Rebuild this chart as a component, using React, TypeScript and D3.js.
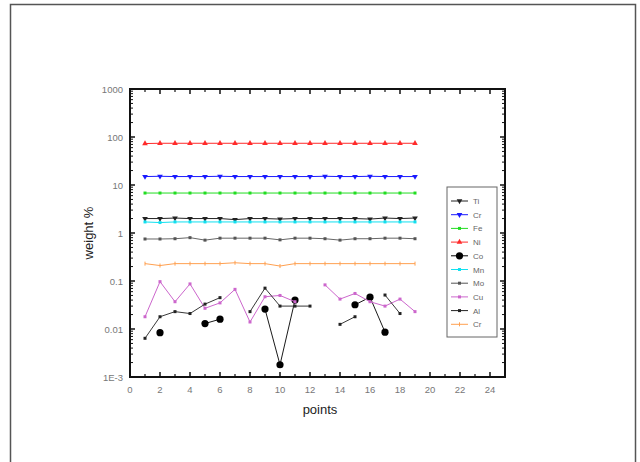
import React from "react";
import * as d3 from "d3";

const points = [1, 2, 3, 4, 5, 6, 7, 8, 9, 10, 11, 12, 13, 14, 15, 16, 17, 18, 19];

const ti = [2.0, 2.0, 2.05, 2.0, 2.0, 2.0, 1.9, 2.0, 2.0, 1.95, 2.0, 2.0, 2.0, 2.0, 2.0, 1.95, 2.05, 2.0, 2.05];
const cr = [15, 15.2, 15, 15, 15, 15.2, 15, 15, 15, 15, 15, 15, 15.2, 15, 15, 15.2, 15, 15, 15];
const fe = [6.8, 6.8, 6.8, 6.8, 6.8, 6.8, 6.8, 6.8, 6.8, 6.8, 6.8, 6.8, 6.8, 6.8, 6.8, 6.8, 6.8, 6.8, 6.8];
const ni = [73, 74, 74, 74, 74, 74, 74, 74, 74, 74, 74, 74, 74, 74, 74, 74, 74, 74, 74];
const co = [null, 0.0084, null, null, 0.013, 0.016, null, null, 0.026, 0.0018, 0.04, null, null, null, 0.032, 0.046, 0.0086, null, null];
const mn = [1.7, 1.65, 1.7, 1.7, 1.7, 1.7, 1.7, 1.7, 1.7, 1.7, 1.7, 1.7, 1.7, 1.7, 1.7, 1.7, 1.7, 1.7, 1.7];
const mo = [0.75, 0.75, 0.76, 0.8, 0.71, 0.78, 0.78, 0.78, 0.78, 0.72, 0.78, 0.78, 0.76, 0.71, 0.76, 0.76, 0.78, 0.78, 0.76];
const cu = [0.018, 0.097, 0.037, 0.087, 0.027, 0.035, 0.067, 0.014, 0.047, 0.05, 0.037, null, 0.083, 0.042, 0.055, 0.037, 0.03, 0.042, 0.023];
const al = [0.0064, 0.018, 0.023, 0.021, 0.033, 0.045, null, 0.023, 0.071, 0.03, 0.03, 0.03, null, 0.0125, 0.018, null, 0.051, 0.021, null];
const cr2 = [0.23, 0.21, 0.23, 0.23, 0.23, 0.23, 0.24, 0.23, 0.23, 0.205, 0.23, 0.23, 0.23, 0.23, 0.23, 0.23, 0.23, 0.23, 0.23];

const seriesNames = ["Ti", "Cr", "Fe", "Ni", "Co", "Mn", "Mo", "Cu", "Al", "Cr"];
const seriesColors = ["#222222", "#1a1aff", "#22dd22", "#ff2a2a", "#000000", "#11e0f0", "#555555", "#cc66cc", "#222222", "#ffa050"];
const seriesValues = [ti, cr, fe, ni, co, mn, mo, cu, al, cr2];
const seriesShapes = ["triangleDown", "triangleDown", "square", "triangle", "circleBig", "square", "square", "square", "square", "tick"];

const xTicks = [0, 2, 4, 6, 8, 10, 12, 14, 16, 18, 20, 22, 24];
const yTicks = [0.001, 0.01, 0.1, 1, 10, 100, 1000];
const yTickLabels = ["1E-3", "0.01", "0.1", "1", "10", "100", "1000"];

const X0 = 130, X1 = 505, Y0 = 377, Y1 = 89;

function Marker({ shape, x, y, color }: any) {
  if (shape === "circleBig") return <circle cx={x} cy={y} r={3.6} fill={color} />;
  if (shape === "tick") return <line x1={x} x2={x} y1={y - 2} y2={y + 2} stroke={color} strokeWidth={1} />;
  const type =
    shape === "triangle" ? d3.symbolTriangle : shape === "triangleDown" ? d3.symbolTriangle : d3.symbolSquare;
  const size = shape === "square" ? 9 : 14;
  const p = d3.symbol().type(type).size(size)()!;
  const rot = shape === "triangleDown" ? 180 : 0;
  return <path d={p} transform={`translate(${x},${y}) rotate(${rot})`} fill={color} />;
}

export default function App() {
  const x = d3.scaleLinear().domain([0, 25]).range([X0, X1]);
  const y = d3.scaleLog().domain([0.001, 1000]).range([Y0, Y1]);
  const line = d3
    .line<any>()
    .defined((d) => d[1] != null)
    .x((d) => x(d[0]))
    .y((d) => y(d[1]));

  const minorX = d3.range(1, 25, 2);
  const minorY: number[] = [];
  for (let e = -3; e < 3; e++) for (let k = 2; k <= 9; k++) minorY.push(k * Math.pow(10, e));

  const legX = 447, legY = 187, legW = 50, legH = 150, legStep = 13.7;

  return (
    <svg width={640} height={462} style={{ position: "absolute", left: 0, top: 0, background: "#fff" }}
      fontFamily="Liberation Sans, Arial, sans-serif">
      <rect x={10.5} y={4.5} width={625} height={470} fill="none" stroke="#555" strokeWidth={1.5} />

      {/* series */}
      {seriesValues.map((vals, si) => {
        const data = points.map((p, i) => [p, vals[i]]);
        const color = seriesColors[si];
        return (
          <g key={si}>
            <path d={line(data)!} fill="none" stroke={color} strokeWidth={si === 8 || si === 4 || si === 6 ? 0.9 : 1} />
            {data.filter((d) => d[1] != null).map((d, i) => (
              <Marker key={i} shape={seriesShapes[si]} x={x(d[0] as number)} y={y(d[1] as number)} color={color} />
            ))}
          </g>
        );
      })}

      {/* axes frame */}
      <rect x={X0} y={Y1} width={X1 - X0} height={Y0 - Y1} fill="none" stroke="#111" strokeWidth={2} />
      {xTicks.concat([]).map((t) => (
        <g key={"xt" + t}>
          <line x1={x(t)} x2={x(t)} y1={Y0} y2={Y0 - 5} stroke="#111" strokeWidth={1.5} />
          <line x1={x(t)} x2={x(t)} y1={Y1} y2={Y1 + 5} stroke="#111" strokeWidth={1.5} />
          <text x={x(t)} y={Y0 + 16} textAnchor="middle" fontSize={9.5} fill="#777">{t}</text>
        </g>
      ))}
      {minorX.map((t) => (
        <g key={"xm" + t}>
          <line x1={x(t)} x2={x(t)} y1={Y0} y2={Y0 - 3} stroke="#111" strokeWidth={1.2} />
          <line x1={x(t)} x2={x(t)} y1={Y1} y2={Y1 + 3} stroke="#111" strokeWidth={1.2} />
        </g>
      ))}
      {yTicks.map((t, i) => (
        <g key={"yt" + t}>
          <line x1={X0} x2={X0 + 5} y1={y(t)} y2={y(t)} stroke="#111" strokeWidth={1.5} />
          <line x1={X1} x2={X1 - 5} y1={y(t)} y2={y(t)} stroke="#111" strokeWidth={1.5} />
          <text x={X0 - 7} y={y(t) + 3.5} textAnchor="end" fontSize={9.5} fill="#777">{yTickLabels[i]}</text>
        </g>
      ))}
      {minorY.map((t, i) => (
        <g key={"ym" + i}>
          <line x1={X0} x2={X0 + 3} y1={y(t)} y2={y(t)} stroke="#111" strokeWidth={1} />
          <line x1={X1} x2={X1 - 3} y1={y(t)} y2={y(t)} stroke="#111" strokeWidth={1} />
        </g>
      ))}

      <text x={320} y={414} textAnchor="middle" fontSize={13} fill="#222">points</text>
      <text transform={`translate(93,${(Y0 + Y1) / 2}) rotate(-90)`} textAnchor="middle" fontSize={13} fill="#222">weight %</text>

      {/* legend */}
      <rect x={legX} y={legY} width={legW} height={legH} fill="#fff" stroke="#666" strokeWidth={1} />
      {seriesNames.map((n, i) => {
        const ly = legY + 14 + i * legStep;
        return (
          <g key={"lg" + i}>
            <line x1={legX + 4} x2={legX + 21} y1={ly} y2={ly} stroke={seriesColors[i]} strokeWidth={1} />
            <Marker shape={seriesShapes[i]} x={legX + 12.5} y={ly} color={seriesColors[i]} />
            <text x={legX + 26} y={ly + 3} fontSize={8} fill="#666">{n}</text>
          </g>
        );
      })}
    </svg>
  );
}
